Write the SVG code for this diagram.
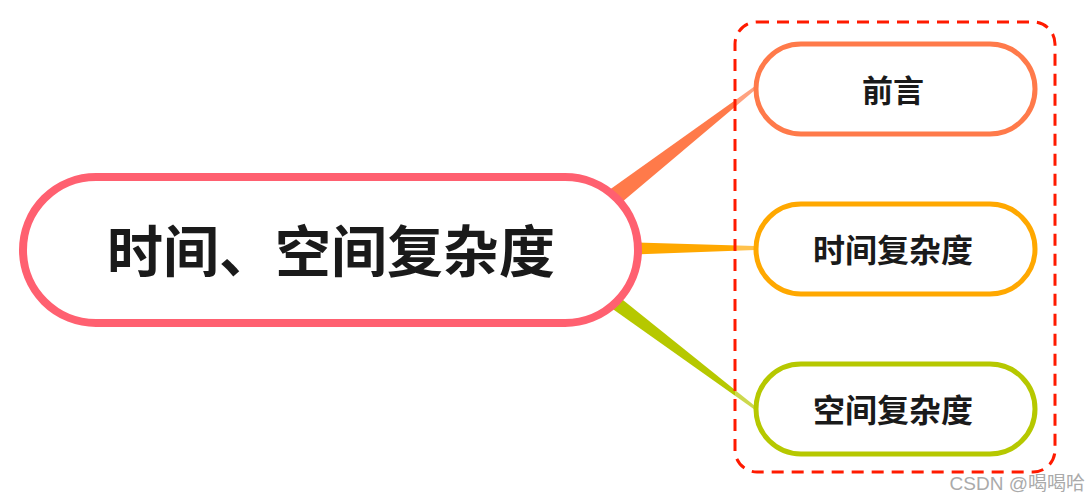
<svg xmlns="http://www.w3.org/2000/svg" width="1090" height="500" viewBox="0 0 1090 500">
<style>
.t{font-family:"Noto Sans CJK SC","Noto Sans",sans-serif;font-weight:bold;fill:#1a1a1a;text-anchor:middle;dominant-baseline:central}
.sub{fill:#fff;stroke-width:5}
</style>
<rect width="1090" height="500" fill="#fff"/>
<g id="connectors">
<polygon points="598,198 609,213 755.9,89.2 754.1,86.8" fill="#FF7A4A"/>
<polygon points="620,242 620,255 755,250 755,246" fill="#FFA800"/>
<polygon points="600,300 608,288 755.9,406.8 754.1,409.2" fill="#B6C800"/>
</g>
<rect id="group-box" x="735" y="22" width="320" height="450" rx="22" fill="#fff" fill-opacity="0.3" stroke="#FF1A00" stroke-width="3" stroke-dasharray="12,8"/>
<g id="main">
<rect x="23" y="177" width="615" height="146" rx="73" fill="#fff" stroke="#FF6070" stroke-width="8"/>
<text class="t" x="331" y="247" font-size="56">时间、空间复杂度</text>
</g>
<g id="n1">
<rect class="sub" x="756" y="44" width="279" height="90" rx="45" stroke="#FF7A4A"/>
<text class="t" x="893" y="88" font-size="31">前言</text>
</g>
<g id="n2">
<rect class="sub" x="756" y="204" width="279" height="90" rx="45" stroke="#FFA800"/>
<text class="t" x="893" y="248" font-size="32">时间复杂度</text>
</g>
<g id="n3">
<rect class="sub" x="756" y="364" width="279" height="90" rx="45" stroke="#B6C800"/>
<text class="t" x="893" y="408" font-size="32">空间复杂度</text>
</g>
<text x="1085" y="490" font-family="Liberation Sans,'Noto Sans CJK SC',sans-serif" font-size="19" fill="#aaa" text-anchor="end">CSDN @喝喝哈</text>
</svg>
